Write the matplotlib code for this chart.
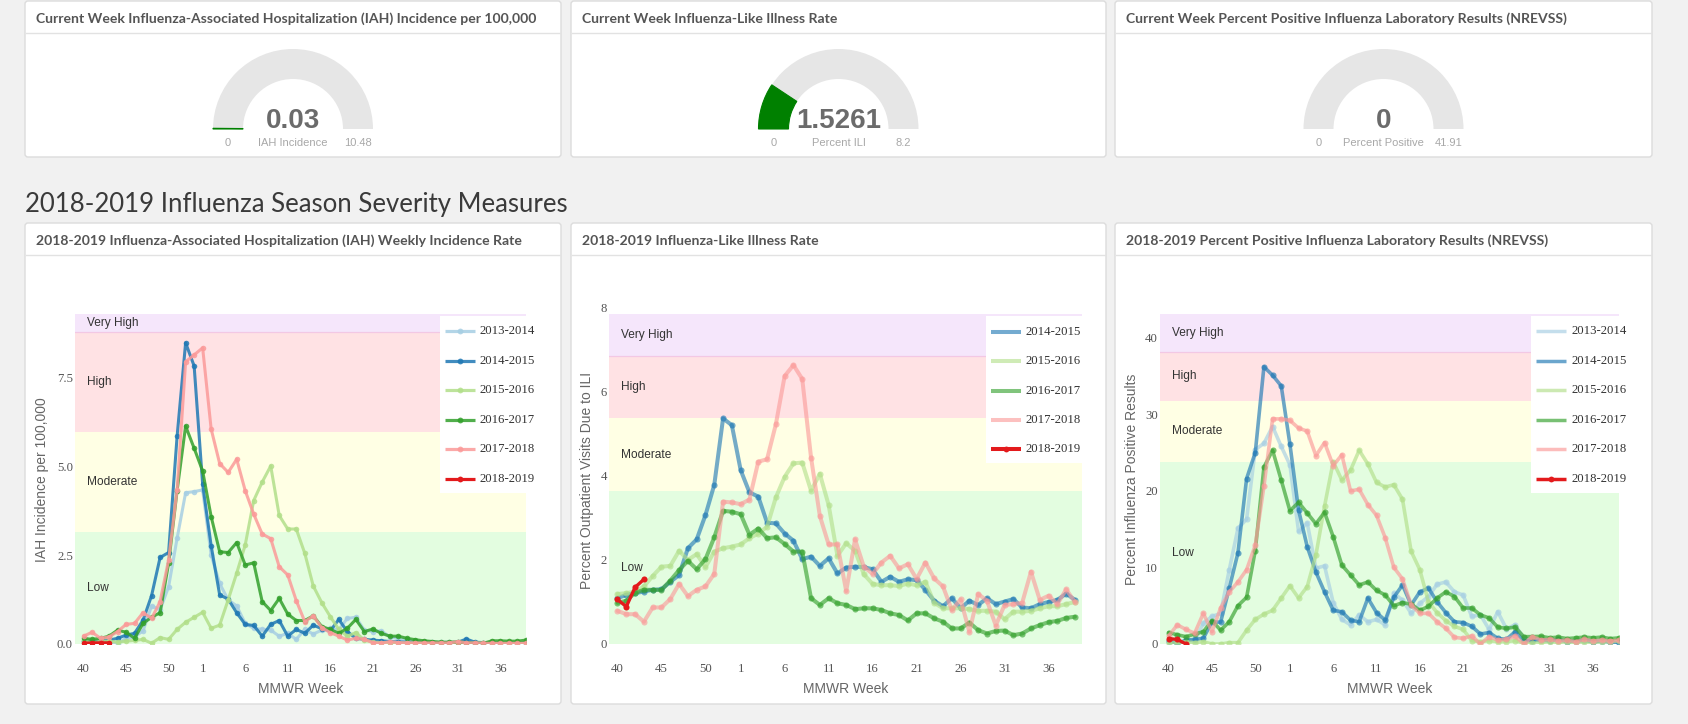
import matplotlib
matplotlib.use("Agg")
import matplotlib.pyplot as plt
from matplotlib.patches import FancyBboxPatch, Rectangle, Wedge
from matplotlib.lines import Line2D
from matplotlib.transforms import blended_transform_factory

# ---------------- data ----------------
weeks = list(range(40, 54)) + list(range(1, 40))
tick_weeks = [40, 45, 50, 1, 6, 11, 16, 21, 26, 31, 36]
season_labels = ["2013-2014", "2014-2015", "2015-2016", "2016-2017", "2017-2018", "2018-2019"]
season_colors = ["#a6cee3", "#1f78b4", "#b2df8a", "#33a02c", "#fb9a99", "#e31a1c"]
severity_levels = ["Low", "Moderate", "High", "Very High"]
severity_colors = ["#e3fde0", "#ffffe4", "#ffe2e4", "#f5e6fb"]

# IAH incidence per 100,000
iah_1314 = [0.08, 0.11, 0.08, 0.07, 0.0, 0.16, 0.2, 0.37, 1.07, 0.96, 1.61, 2.97, 4.25, 4.28, 4.33, 2.5, 1.7, 1.24,
            1.07, 0.58, 0.44, 0.41, 0.39, 0.22, 0.3, 0.13, 0.41, 0.28, 0.39, 0.44, 0.4, 0.72, 0.75, 0.39, 0.35, 0.37,
            0.2, 0.15, 0.1, 0.08, 0.06, 0.05, 0.05, 0.05, 0.04, 0.05, 0.04, 0.04, 0.03, 0.03, 0.03, 0.03, 0.03]
iah_1415 = [0.08, 0.07, 0.09, 0.11, 0.16, 0.25, 0.3, 0.67, 1.36, 2.43, 2.57, 5.84, 8.46, 7.81, 4.49, 2.76, 1.38, 1.26,
            0.88, 0.55, 0.52, 0.22, 0.55, 0.66, 0.22, 0.41, 0.3, 0.53, 0.43, 0.37, 0.69, 0.35, 0.16, 0.13, 0.11, 0.09,
            0.07, 0.06, 0.05, 0.05, 0.04, 0.04, 0.03, 0.04, 0.05, 0.14, 0.05, 0.04, 0.03, 0.03, 0.03, 0.03, 0.03]
iah_1516 = [0.11, 0.03, 0.08, 0.08, 0.05, 0.08, 0.1, 0.13, 0.02, 0.18, 0.13, 0.41, 0.61, 0.75, 0.89, 0.44, 0.53, 1.24,
            1.99, 2.78, 4.03, 4.55, 5.0, 3.61, 3.23, 3.23, 2.55, 1.63, 1.16, 0.77, 0.41, 0.22, 0.32, 0.11, 0.05, 0.04,
            0.04, 0.03, 0.03, 0.03, 0.03, 0.03, 0.03, 0.03, 0.03, 0.03, 0.03, 0.03, 0.03, 0.03, 0.03, 0.03, 0.03]
iah_1617 = [0.16, 0.13, 0.16, 0.22, 0.39, 0.33, 0.16, 0.58, 0.75, 0.88, 2.27, 4.31, 6.12, 5.5, 4.86, 3.58, 2.59, 2.57,
            2.85, 2.22, 2.28, 1.19, 0.94, 1.28, 0.84, 0.66, 0.66, 0.79, 0.49, 0.41, 0.3, 0.44, 0.69, 0.35, 0.42, 0.3,
            0.22, 0.22, 0.16, 0.12, 0.09, 0.07, 0.05, 0.05, 0.06, 0.04, 0.02, 0.02, 0.09, 0.09, 0.08, 0.08, 0.11]
iah_1718 = [0.22, 0.33, 0.16, 0.2, 0.35, 0.55, 0.58, 0.88, 0.72, 1.19, 2.36, 4.34, 7.93, 8.12, 8.32, 6.04, 5.07, 4.82,
            5.19, 4.31, 3.65, 3.09, 2.96, 2.17, 1.94, 1.22, 0.63, 0.79, 0.46, 0.32, 0.22, 0.11, 0.16, 0.13, 0.04, 0.02,
            0.07, 0.04, 0.03, 0.03, 0.03, 0.03, 0.03, 0.03, 0.07, 0.03, 0.03, 0.02, 0.02, 0.02, 0.02, 0.02, 0.02]
iah_1819 = [0.02, 0.03, 0.03, 0.03]

# Percent ILI
ili_1415 = [1.09, 1.17, 1.21, 1.25, 1.29, 1.3, 1.48, 1.64, 2.28, 2.49, 3.07, 3.79, 5.37, 5.21, 4.14, 3.61, 3.51, 2.89,
            2.87, 2.63, 2.46, 2.02, 2.08, 1.86, 2.04, 1.68, 1.82, 1.84, 1.83, 1.78, 1.48, 1.6, 1.48, 1.54, 1.52, 1.29,
            1.03, 0.9, 1.09, 0.85, 1.03, 0.93, 1.09, 0.95, 1.01, 1.07, 0.87, 0.85, 0.95, 1.0, 1.05, 1.2, 1.05]
ili_1516 = [1.19, 1.21, 1.25, 1.37, 1.62, 1.84, 1.86, 2.22, 2.0, 2.14, 1.83, 2.2, 2.28, 2.32, 2.37, 2.52, 2.63, 2.79,
            3.49, 3.98, 4.3, 4.32, 3.65, 4.05, 3.31, 2.1, 2.4, 2.22, 1.66, 1.43, 1.4, 1.4, 1.38, 1.44, 1.4, 1.48,
            0.98, 0.85, 0.85, 0.85, 0.83, 0.79, 0.79, 0.77, 0.59, 0.77, 0.77, 0.79, 0.85, 0.9, 0.9, 0.95, 1.0]
ili_1617 = [0.98, 1.03, 1.22, 1.29, 1.29, 1.29, 1.51, 1.76, 1.98, 1.78, 2.02, 2.54, 3.17, 3.15, 3.09, 2.6, 2.75, 2.52,
            2.54, 2.38, 2.2, 2.2, 1.09, 0.93, 1.09, 0.97, 0.93, 0.83, 0.85, 0.85, 0.81, 0.73, 0.69, 0.56, 0.73, 0.73,
            0.61, 0.53, 0.37, 0.37, 0.51, 0.33, 0.25, 0.31, 0.32, 0.21, 0.25, 0.37, 0.45, 0.52, 0.55, 0.62, 0.65]
ili_1718 = [0.79, 0.71, 0.71, 0.53, 0.87, 0.87, 1.07, 1.43, 1.14, 1.29, 1.37, 1.67, 3.39, 3.37, 3.33, 3.44, 4.34, 4.4,
            5.23, 6.38, 6.64, 6.31, 4.44, 3.05, 2.37, 2.37, 1.26, 2.49, 1.84, 1.67, 1.94, 2.1, 1.8, 1.9, 1.55, 1.94,
            1.56, 1.37, 0.81, 1.06, 0.29, 1.19, 1.03, 0.44, 0.93, 0.95, 0.98, 1.72, 1.05, 1.15, 0.95, 1.3, 1.0]
ili_1819 = [1.06, 0.89, 1.35, 1.54]

# Percent positive (NREVSS)
pos_1314 = [0.2, 0.2, 0.5, 0.4, 2.7, 3.6, 4.0, 9.7, 15.1, 16.3, 25.4, 26.2, 28.4, 25.8, 23.4, 14.7, 15.8, 9.9, 10.2,
            5.4, 3.2, 2.5, 3.8, 2.9, 3.2, 2.5, 6.6, 5.75, 4.0, 5.3, 6.2, 7.8, 8.1, 6.8, 6.4, 3.6, 3.8, 1.9, 4.2, 2.0,
            2.5, 0.74, 0.52, 0.6, 0.5, 0.4, 0.5, 0.3, 0.4, 0.3, 0.3, 0.2, 0.3]
pos_1415 = [0.44, 0.0, 0.5, 0.6, 0.74, 2.9, 2.85, 7.3, 11.9, 21.6, 25.0, 36.2, 35.1, 33.7, 26.1, 17.5, 12.7, 9.4, 6.8,
            4.4, 4.2, 3.1, 2.9, 6.0, 4.1, 3.1, 6.1, 7.7, 5.1, 6.8, 7.3, 5.5, 4.1, 2.9, 2.8, 2.3, 1.3, 1.5, 0.74, 0.6,
            1.6, 0.44, 0.44, 0.5, 0.4, 0.6, 0.3, 0.4, 0.5, 0.3, 0.4, 0.3, 0.1]
pos_1516 = [0.1, 0.17, 0.3, 0.17, 0.3, 0.0, 0.0, 0.17, 0.17, 1.8, 3.2, 3.9, 4.4, 6.0, 7.6, 6.0, 7.5, 11.6, 18.0, 23.8,
            21.4, 22.7, 25.3, 23.5, 21.1, 20.5, 20.8, 18.9, 12.1, 9.7, 5.5, 4.1, 3.05, 2.3, 1.9, 0.44, 0.3, 0.44, 0.3,
            0.3, 0.44, 0.1, 0.1, 0.2, 0.3, 0.2, 0.3, 0.2, 0.3, 0.2, 0.3, 0.3, 0.4]
pos_1617 = [1.5, 1.2, 0.96, 1.3, 1.6, 3.05, 1.8, 2.9, 5.0, 6.1, 12.2, 23.1, 25.3, 21.4, 17.4, 18.5, 17.1, 15.7, 17.2,
            14.0, 10.3, 9.0, 7.7, 8.1, 7.0, 6.4, 5.0, 5.4, 5.2, 4.4, 4.9, 6.0, 6.8, 6.2, 4.7, 4.7, 3.8, 3.4, 2.2,
            2.05, 2.2, 0.96, 0.96, 1.0, 0.8, 0.9, 0.7, 0.8, 0.9, 0.8, 0.9, 0.7, 0.8]
pos_1718 = [1.05, 2.5, 1.9, 1.4, 4.0, 1.6, 4.7, 6.8, 8.1, 9.7, 12.9, 20.6, 29.4, 29.4, 29.2, 28.2, 27.8, 24.6, 26.3,
            23.3, 24.7, 20.0, 20.2, 18.2, 16.8, 13.9, 10.0, 8.5, 5.1, 4.0, 4.0, 2.9, 2.05, 0.87, 0.74, 1.05, 0.0, 0.96,
            0.52, 0.6, 1.05, 0.0, 0.96, 0.5, 0.6, 0.4, 0.5, 0.3, 0.6, 0.4, 0.5, 0.4, 0.5]
pos_1819 = [0.7, 0.6, 0.0]

iah_thresholds = [0, 3.15, 5.96, 8.76, 9.27]
ili_thresholds = [0, 3.64, 5.38, 6.86, 7.86]
pos_thresholds = [0, 23.75, 31.8, 38.2, 43.1]
iah_yticks = [0, 2.5, 5.0, 7.5]
ili_yticks = [0, 2, 4, 6, 8]
pos_yticks = [0, 10, 20, 30, 40]

gauge_titles = ["Current Week Influenza-Associated Hospitalization (IAH) Incidence per 100,000",
                "Current Week Influenza-Like Illness Rate",
                "Current Week Percent Positive Influenza Laboratory Results (NREVSS)"]
gauge_values = [0.03, 1.5261, 0]
gauge_value_text = ["0.03", "1.5261", "0"]
gauge_max = [10.48, 8.2, 41.91]
gauge_max_text = ["10.48", "8.2", "41.91"]
gauge_names = ["IAH Incidence", "Percent ILI", "Percent Positive"]

section_heading = "2018-2019 Influenza Season Severity Measures"
chart_titles = ["2018-2019 Influenza-Associated Hospitalization (IAH) Weekly Incidence Rate",
                "2018-2019 Influenza-Like Illness Rate",
                "2018-2019 Percent Positive Influenza Laboratory Results (NREVSS)"]
chart_ylabels = ["IAH Incidence per 100,000", "Percent Outpatient Visits Due to ILI",
                 "Percent Influenza Positive Results"]
xlabel_text = "MMWR Week"

# ---------------- figure ----------------
W, H = 1688, 724
fig = plt.figure(figsize=(W / 100, H / 100), dpi=100)
fig.patch.set_facecolor("#f1f1f1")
renderer = fig.canvas.get_renderer()

SANS = ["Liberation Sans", "DejaVu Sans"]
SERIF = ["Liberation Serif", "DejaVu Serif"]
LATO = ["Lato", "DejaVu Sans"]

bg = fig.add_axes([0, 0, 1, 1], zorder=0)
bg.set_xlim(0, W)
bg.set_ylim(H, 0)
bg.axis("off")

ov = fig.add_axes([0, 0, 1, 1], zorder=5)
ov.set_xlim(0, W)
ov.set_ylim(H, 0)
ov.axis("off")
ov.patch.set_alpha(0)


def fit_width(t, target):
    w = t.get_window_extent(renderer=renderer).width
    if w > 0:
        t.set_fontsize(t.get_fontsize() * target / w)
    return t.get_fontsize()


panel_x = [(25, 561), (571, 1106), (1115, 1652)]


def panel(x0, x1, y0, y1, title, title_size=None):
    bg.add_patch(FancyBboxPatch((x0, y0), x1 - x0, y1 - y0,
                                boxstyle="round,pad=0,rounding_size=3",
                                fc="white", ec="#dcdcdc", lw=1.0, zorder=1))
    bg.plot([x0 + 1, x1 - 1], [y0 + 32, y0 + 32], color="#e2e2e2", lw=1.0, zorder=2)
    t = bg.text(x0 + 11, y0 + 22, title, ha="left", va="baseline", family=LATO,
                fontweight="bold", fontsize=10 if title_size is None else title_size,
                color="#555555", zorder=3)
    return t


# top panels with gauges
t0 = panel(panel_x[0][0], panel_x[0][1], 1, 157, gauge_titles[0])
title_fs = fit_width(t0, 499)
for k in range(1, 3):
    panel(panel_x[k][0], panel_x[k][1], 1, 157, gauge_titles[k], title_fs)

R_OUT, R_IN, GY = 80, 50, 129
for k in range(3):
    cx = (panel_x[k][0] + panel_x[k][1]) / 2
    bg.add_patch(Wedge((cx, GY), R_OUT, 180, 360, width=R_OUT - R_IN,
                       fc="#e6e6e6", ec="none", zorder=3))
    frac = gauge_values[k] / gauge_max[k]
    if frac > 0:
        bg.add_patch(Wedge((cx, GY), R_OUT, 180, 180 + 180 * frac, width=R_OUT - R_IN,
                           fc="#008000", ec="#008000", lw=0.8, zorder=4))
    bg.text(cx, 128, gauge_value_text[k], ha="center", va="baseline", family=SANS,
            fontweight="bold", fontsize=20, color="#6b6b6b", zorder=5)
    mid = (R_OUT + R_IN) / 2
    bg.text(cx - mid, 146, "0", ha="center", va="baseline", family=SANS,
            fontsize=8, color="#a8a8a8", zorder=5)
    bg.text(cx, 146, gauge_names[k], ha="center", va="baseline", family=SANS,
            fontsize=8, color="#a8a8a8", zorder=5)
    bg.text(cx + mid, 146, gauge_max_text[k], ha="center", va="baseline", family=SANS,
            fontsize=8, color="#a8a8a8", zorder=5)

# section heading
hd = bg.text(25, 212, section_heading, ha="left", va="baseline", family=LATO,
             fontsize=18, color="#3a3a3a", zorder=5)
fit_width(hd, 540)

# bottom panels
for k in range(3):
    panel(panel_x[k][0], panel_x[k][1], 223, 704, chart_titles[k], title_fs)

# ---------------- charts ----------------
charts = [
    dict(px=(75, 526, 314, 644), xlim=(-1, 52), ylim=(0, 9.27), thr=iah_thresholds,
         series=[iah_1314, iah_1415, iah_1516, iah_1617, iah_1718, iah_1819],
         labels=season_labels, colors=season_colors, yticks=iah_yticks, yfmt="{:.1f}",
         lw=2.2, ms=4.0, alpha=0.85, ylabel_xy=(42, 480),
         legend=dict(x=440, top=316, bottom=493, y0=331, dy=29.6), leg_markers=True, leg_lw=2.3),
    dict(px=(609, 1082, 308, 644), xlim=(-0.966, 52.8), ylim=(0, 8), thr=ili_thresholds,
         series=[ili_1415, ili_1516, ili_1617, ili_1718, ili_1819],
         labels=season_labels[1:], colors=season_colors[1:], yticks=ili_yticks, yfmt="{:g}",
         lw=2.9, ms=4.4, alpha=0.62, ylabel_xy=(587, 480),
         legend=dict(x=986, top=316, bottom=463, y0=332, dy=29.3), leg_markers=False, leg_lw=2.9),
    dict(px=(1160, 1619, 314, 644), xlim=(-1, 52), ylim=(0, 43.1), thr=pos_thresholds,
         series=[pos_1314, pos_1415, pos_1516, pos_1617, pos_1718, pos_1819],
         labels=season_labels, colors=season_colors, yticks=pos_yticks, yfmt="{:g}",
         lw=2.6, ms=4.4, alpha=0.66, ylabel_xy=(1132, 479),
         legend=dict(x=1531, top=316, bottom=493, y0=331, dy=29.6), leg_markers=False, leg_lw=2.5),
]

tick_pos = [weeks.index(w) for w in tick_weeks]
tick_lab = [str(w) for w in tick_weeks]

for k, c in enumerate(charts):
    x0, x1, y0, y1 = c["px"]
    ax = fig.add_axes([x0 / W, (H - y1) / H, (x1 - x0) / W, (y1 - y0) / H], zorder=2)
    ax.set_facecolor("none")
    for s in ax.spines.values():
        s.set_visible(False)
    ax.set_xlim(*c["xlim"])
    ax.set_ylim(*c["ylim"])
    thr = c["thr"]
    btr = blended_transform_factory(ax.transAxes, ax.transData)
    for j, name in enumerate(severity_levels):
        ax.axhspan(thr[j], thr[j + 1], color=severity_colors[j], lw=0, zorder=0)
        ax.text(12 / (x1 - x0), (thr[j] + thr[j + 1]) / 2, name, transform=btr,
                ha="left", va="center", family=SANS, fontsize=8.6, color="#333333", zorder=6)
    ax.axhline(thr[3], color="#f3c8e4", lw=0.9, zorder=0.5)
    for j, (vals, col) in enumerate(zip(c["series"], c["colors"])):
        is_red = (j == len(c["series"]) - 1)
        ax.plot(range(len(vals)), vals, color=col, lw=c["lw"] if not is_red else 2.4,
                marker="o", ms=c["ms"], mew=0, alpha=1.0 if is_red else c["alpha"],
                solid_joinstyle="round", solid_capstyle="round", zorder=2 + j)
    ax.set_xticks(tick_pos)
    ax.set_xticklabels(tick_lab, family=SERIF, fontsize=9.2, color="#555555")
    ax.set_yticks(c["yticks"])
    ax.set_yticklabels([c["yfmt"].format(v) for v in c["yticks"]], family=SERIF,
                       fontsize=9.2, color="#555555")
    ax.tick_params(axis="x", length=0, pad=14)
    ax.tick_params(axis="y", length=0, pad=1.5)

    # axis titles
    bg.text(c["ylabel_xy"][0], c["ylabel_xy"][1], chart_ylabels[k], rotation=90,
            ha="center", va="center", family=SANS, fontsize=10, color="#666666", zorder=5)
    bg.text((x0 + x1) / 2, 689, xlabel_text, ha="center", va="center", family=SANS,
            fontsize=10, color="#666666", zorder=5)

    # legend
    lg = c["legend"]
    n = len(c["labels"])
    ov.add_patch(Rectangle((lg["x"], lg["top"]), 100, lg["bottom"] - lg["top"],
                           fc="white", ec="none", zorder=1))
    for j, (lab, col) in enumerate(zip(c["labels"], c["colors"])):
        yy = lg["y0"] + j * lg["dy"]
        is_red = (j == n - 1)
        a = 1.0 if is_red else c["alpha"]
        ov.add_line(Line2D([lg["x"] + 5, lg["x"] + 35], [yy, yy], color=col, lw=c["leg_lw"],
                           alpha=a, zorder=2, solid_capstyle="butt"))
        if c["leg_markers"] or is_red:
            ov.add_line(Line2D([lg["x"] + 20], [yy], color=col, marker="o", ms=4.2, mew=0,
                               alpha=a, zorder=3))
        ov.text(lg["x"] + 40, yy, lab, ha="left", va="center", family=SERIF,
                fontsize=9.2, color="#333333", zorder=3)

fig.savefig("out.png", dpi=100, facecolor=fig.get_facecolor())
